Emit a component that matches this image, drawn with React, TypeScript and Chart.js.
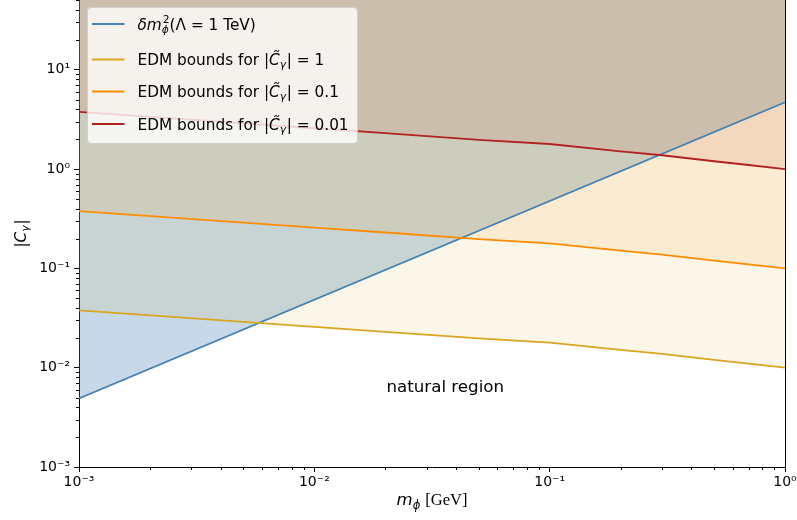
import React, { useEffect, useRef } from 'react';
import { Chart, registerables } from 'chart.js';

Chart.register(...registerables);

// ---- data ----
const MASS_GEV = [0.001, 0.01, 0.02, 0.05, 0.1, 0.2, 0.3, 0.5, 0.7, 1];
const EDM_C1 = [0.0378, 0.0258, 0.023, 0.0197, 0.0179, 0.0151, 0.0138, 0.012, 0.011, 0.01];
const EDM_C01 = [0.378, 0.258, 0.23, 0.197, 0.179, 0.151, 0.138, 0.12, 0.11, 0.1];
const EDM_C001 = [3.78, 2.58, 2.3, 1.97, 1.79, 1.51, 1.38, 1.2, 1.1, 1.0];
const DM_MASS = [0.001, 1];
const DM_C = [0.0049, 4.7];

const X_TICKS = [0.001, 0.01, 0.1, 1];
const X_TICK_LABELS = ['10⁻³', '10⁻²', '10⁻¹', '10⁰'];
const Y_TICKS = [0.001, 0.01, 0.1, 1, 10];
const Y_TICK_LABELS = ['10⁻³', '10⁻²', '10⁻¹', '10⁰', '10¹'];
const X_RANGE = [0.001, 1];
const Y_RANGE = [0.001, 50.5];

const SERIES_NAMES = [
  'δm²ϕ(Λ = 1 TeV)',
  'EDM bounds for |C̃γ| = 1',
  'EDM bounds for |C̃γ| = 0.1',
  'EDM bounds for |C̃γ| = 0.01',
];
const SERIES_LINE = ['#4682b4', '#daa520', '#ff8c00', '#b22222'];
const SERIES_FILL = [
  'rgba(70,130,180,0.3)',
  'rgba(218,165,32,0.1)',
  'rgba(255,140,0,0.1)',
  'rgba(178,34,34,0.1)',
];
const EDM_VALUES = ['1', '0.1', '0.01'];
const NATURAL_LABEL = 'natural region';
const NATURAL_AT = { x: 0.036, y: 0.0063 };

// ---- rich (math-like) text helpers ----
type Seg = { t?: string; it?: boolean; serif?: boolean; sub?: string; sup?: string; subIt?: boolean };
const SANS = '"DejaVu Sans"';
const SERIF = '"Liberation Serif", "DejaVu Serif"';

function fontOf(size: number, it?: boolean, serif?: boolean) {
  return `${it ? 'italic ' : ''}${size}px ${serif ? SERIF : SANS}`;
}

function segWidth(ctx: CanvasRenderingContext2D, s: Seg, size: number) {
  if (s.t !== undefined) {
    ctx.font = fontOf(size, s.it, s.serif);
    return ctx.measureText(s.t).width;
  }
  const ss = size * 0.7;
  let w = 0;
  if (s.sup) { ctx.font = fontOf(ss, false); w = Math.max(w, ctx.measureText(s.sup).width); }
  if (s.sub) { ctx.font = fontOf(ss, s.subIt !== false); w = Math.max(w, ctx.measureText(s.sub).width); }
  return w + size * 0.05;
}

function drawRich(ctx: CanvasRenderingContext2D, segs: Seg[], x: number, y: number, size: number, align: 'left' | 'center') {
  const widths = segs.map((s) => segWidth(ctx, s, size));
  const total = widths.reduce((a, b) => a + b, 0);
  let cx = align === 'center' ? x - total / 2 : x;
  ctx.textAlign = 'left';
  ctx.textBaseline = 'alphabetic';
  segs.forEach((s, i) => {
    if (s.t !== undefined) {
      ctx.font = fontOf(size, s.it, s.serif);
      ctx.fillText(s.t, cx, y);
    } else {
      const ss = size * 0.7;
      if (s.sup) { ctx.font = fontOf(ss, false); ctx.fillText(s.sup, cx + 1, y - size * 0.42); }
      if (s.sub) { ctx.font = fontOf(ss, s.subIt !== false); ctx.fillText(s.sub, cx, y + size * 0.22); }
    }
    cx += widths[i];
  });
}

const LEGEND_RICH: Seg[][] = [
  [{ t: 'δm', it: true }, { sup: '2', sub: 'ϕ' }, { t: '(Λ = 1 TeV)' }],
  ...EDM_VALUES.map((v) => [
    { t: 'EDM bounds for |' },
    { t: 'C̃', it: true },
    { sub: 'γ' },
    { t: '| = ' + v },
  ] as Seg[]),
];

const overlay = {
  id: 'overlay',
  afterDatasetsDraw(chart: any) {
    const { ctx, scales } = chart;
    ctx.save();
    ctx.fillStyle = '#000';
    ctx.font = fontOf(16.7);
    ctx.textAlign = 'center';
    ctx.textBaseline = 'middle';
    ctx.fillText(NATURAL_LABEL, scales.x.getPixelForValue(NATURAL_AT.x), scales.y.getPixelForValue(NATURAL_AT.y));
    ctx.restore();
  },
  afterDraw(chart: any) {
    const { ctx, chartArea: a, scales } = chart;
    const xs = scales.x;
    const ys = scales.y;
    ctx.save();
    ctx.strokeStyle = '#000';
    ctx.lineWidth = 1;
    // right spine
    const rx = Math.round(a.right) + 0.5;
    ctx.beginPath();
    ctx.moveTo(rx, a.top);
    ctx.lineTo(rx, a.bottom);
    ctx.stroke();
    // minor ticks
    ctx.beginPath();
    for (let k = -3; k <= 1; k++) {
      for (let m = 2; m <= 9; m++) {
        const v = m * Math.pow(10, k);
        if (v >= X_RANGE[0] && v <= X_RANGE[1]) {
          const px = Math.round(xs.getPixelForValue(v)) + 0.5;
          ctx.moveTo(px, a.bottom);
          ctx.lineTo(px, a.bottom + 3);
        }
        if (v >= Y_RANGE[0] && v <= Y_RANGE[1]) {
          const py = Math.round(ys.getPixelForValue(v)) + 0.5;
          ctx.moveTo(a.left, py);
          ctx.lineTo(a.left - 3, py);
        }
      }
    }
    ctx.stroke();

    // axis titles
    ctx.fillStyle = '#000';
    drawRich(ctx, [{ t: 'm', it: true }, { sub: 'ϕ' }, { t: ' [GeV]', serif: true }], (a.left + a.right) / 2, 505, 16.5, 'center');
    ctx.save();
    ctx.translate(26, (a.top + a.bottom) / 2);
    ctx.rotate(-Math.PI / 2);
    drawRich(ctx, [{ t: '|' }, { t: 'C', it: true }, { sub: 'γ' }, { t: '|' }], 0, 0, 15.3, 'center');
    ctx.restore();

    // legend
    const bx = a.left + 8.5, by = 7.5, bw = 270, bh = 136;
    ctx.beginPath();
    ctx.roundRect(bx, by, bw, bh, 4);
    ctx.fillStyle = 'rgba(255,255,255,0.8)';
    ctx.fill();
    ctx.strokeStyle = 'rgba(204,204,204,0.8)';
    ctx.lineWidth = 1;
    ctx.stroke();
    const baselines = [29.5, 65, 97, 129.5];
    chart.data.datasets.forEach((ds: any, i: number) => {
      const bl = baselines[i];
      ctx.strokeStyle = ds.borderColor;
      ctx.lineWidth = 2;
      ctx.beginPath();
      ctx.moveTo(bx + 4.5, bl - 5.5);
      ctx.lineTo(bx + 37, bl - 5.5);
      ctx.stroke();
      ctx.fillStyle = '#000';
      drawRich(ctx, LEGEND_RICH[i], bx + 50, bl, 15.3, 'left');
    });
    ctx.restore();
  },
};

export default function App() {
  const ref = useRef<HTMLCanvasElement | null>(null);
  useEffect(() => {
    if (!ref.current) return;
    Chart.defaults.font.family = 'DejaVu Sans';
    const toPts = (xsv: number[], ysv: number[]) => xsv.map((x, i) => ({ x, y: ysv[i] }));
    const seriesData = [toPts(DM_MASS, DM_C), toPts(MASS_GEV, EDM_C1), toPts(MASS_GEV, EDM_C01), toPts(MASS_GEV, EDM_C001)];
    const chart = new Chart(ref.current, {
      type: 'line',
      data: {
        datasets: seriesData.map((d, i) => ({
          label: SERIES_NAMES[i],
          data: d,
          borderColor: SERIES_LINE[i],
          backgroundColor: SERIES_FILL[i],
          borderWidth: 1.8,
          pointRadius: 0,
          tension: 0,
          fill: 'end',
          order: i === 0 ? 1 : 0,
        })),
      },
      options: {
        animation: false,
        responsive: false,
        devicePixelRatio: 1,
        layout: { padding: { top: 0, right: 12, left: 0, bottom: 0 } },
        plugins: {
          legend: { display: false },
          tooltip: { enabled: false },
          filler: { drawTime: 'beforeDatasetsDraw' },
        },
        scales: {
          x: {
            type: 'logarithmic',
            min: X_RANGE[0],
            max: X_RANGE[1],
            afterBuildTicks: (s: any) => { s.ticks = X_TICKS.map((v) => ({ value: v, major: true })); },
            afterFit: (s: any) => { s.height = 53; s.paddingLeft = 0; s.paddingRight = 0; },
            ticks: {
              autoSkip: false,
              maxRotation: 0,
              padding: 2,
              color: '#000',
              font: { size: 14, family: 'DejaVu Sans' },
              callback: (v: any) => X_TICK_LABELS[X_TICKS.indexOf(Number(v))] ?? '',
            },
            grid: { drawOnChartArea: false, tickLength: 5, color: '#000', tickWidth: 1 },
            border: { display: true, color: '#000', width: 1 },
          },
          y: {
            type: 'logarithmic',
            min: Y_RANGE[0],
            max: Y_RANGE[1],
            afterBuildTicks: (s: any) => { s.ticks = Y_TICKS.map((v) => ({ value: v, major: true })); },
            afterFit: (s: any) => { s.width = 79; s.paddingTop = 0; s.paddingBottom = 0; },
            ticks: {
              autoSkip: false,
              padding: 4,
              color: '#000',
              font: { size: 14, family: 'DejaVu Sans' },
              callback: (v: any) => Y_TICK_LABELS[Y_TICKS.indexOf(Number(v))] ?? '',
            },
            grid: { drawOnChartArea: false, tickLength: 5, color: '#000', tickWidth: 1 },
            border: { display: true, color: '#000', width: 1 },
          },
        },
      },
      plugins: [overlay],
    });
    return () => chart.destroy();
  }, []);
  return (
    <div style={{ position: 'fixed', left: 0, top: 0, width: 797, height: 520, background: '#fff' }}>
      <canvas ref={ref} width={797} height={520} style={{ width: 797, height: 520, display: 'block' }} />
    </div>
  );
}
